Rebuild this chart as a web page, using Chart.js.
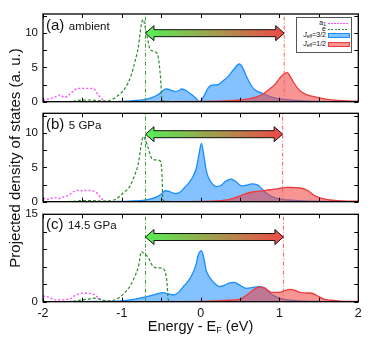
<!DOCTYPE html>
<html>
<head>
<meta charset="utf-8">
<script src="https://cdn.jsdelivr.net/npm/chart.js@4.4.1/dist/chart.umd.min.js"></script>
<style>
  html, body { margin: 0; padding: 0; background: #fff; }
  #wrap { position: relative; width: 373px; height: 341px; overflow: hidden;
          font-family: "Liberation Sans", Arial, sans-serif; color: #111; }
  canvas { position: absolute; left: 0; }
  .plabel { position: absolute; left: 46px; white-space: nowrap; line-height: 15px; z-index: 2; }
  .plabel .tag { font-size: 15px; }
  .plabel .cond { font-size: 11.5px; }
  #ytitle { position: absolute; left: 13.5px; top: 157.5px; font-size: 15px; white-space: nowrap;
            transform: translate(-50%, -50%) rotate(-90deg); z-index: 2; }
  #xtitle { position: absolute; left: 200.5px; top: 319px; font-size: 14.5px; line-height: 14.5px;
            white-space: nowrap; transform: translateX(-50%); z-index: 2; }
  #xtitle sub { font-size: 9px; vertical-align: -2px; }
  #legend { position: absolute; left: 296px; top: 17px; width: 54px; height: 34px;
            border: 1px solid #555; background: #fff; z-index: 2; font-size: 7px; }
  #legend .row { position: absolute; left: 0; width: 54px; height: 8px; }
  #legend .txt { position: absolute; right: 25px; top: 0; line-height: 8px; white-space: nowrap; }
  #legend .txt sub { font-size: 5px; vertical-align: -1px; }
  #legend .sym { position: absolute; left: 31px; width: 20px; }
</style>
</head>
<body>
<div id="wrap">
  <canvas id="cA" width="373" height="115" style="top:0px"></canvas>
  <canvas id="cB" width="373" height="115" style="top:100px"></canvas>
  <canvas id="cC" width="373" height="141" style="top:200px"></canvas>

  <div class="plabel" style="top:17px"><span class="tag">(a)</span> <span class="cond">ambient</span></div>
  <div class="plabel" style="top:116px"><span class="tag">(b)</span> <span class="cond">5 GPa</span></div>
  <div class="plabel" style="top:216px"><span class="tag">(c)</span> <span class="cond">14.5 GPa</span></div>

  <div id="ytitle">Projected density of states (a. u.)</div>
  <div id="xtitle">Energy - E<sub>F</sub> (eV)</div>

  <div id="legend">
    <div class="row" style="top:1px"><span class="txt">a<sub>1</sub></span>
      <div class="sym" style="top:3.5px;height:1.5px;background:repeating-linear-gradient(90deg,#ff4dff 0 2px,transparent 2px 3px)"></div></div>
    <div class="row" style="top:7px"><span class="txt">e</span>
      <div class="sym" style="top:4px;height:1.2px;background:repeating-linear-gradient(90deg,#2e8b2e 0 2px,transparent 2px 3.5px)"></div></div>
    <div class="row" style="top:13px"><span class="txt"><i>J</i><sub>eff</sub>=3/2</span>
      <div class="sym" style="top:2px;height:3px;background:rgba(30,144,255,0.55);border:1px solid #1a8cff"></div></div>
    <div class="row" style="top:22px"><span class="txt"><i>J</i><sub>eff</sub>=1/2</span>
      <div class="sym" style="top:2px;height:3px;background:rgba(240,60,60,0.55);border:1px solid #ee3b3b"></div></div>
  </div>
</div>

<script>
// ---- data (energy in eV, PDOS in a. u.) ----
// (a) ambient
var aA1E = [-2, -1.92, -1.84, -1.78, -1.73, -1.67, -1.6, -1.56, -1.5, -1.44, -1.37, -1.3, -1.26, -1.22, -1.15, -1.0];
var aA1Y = [0.25, 0.4, 0.7, 1.0, 0.6, 1.0, 1.7, 1.95, 1.95, 1.95, 1.95, 1.0, 0.5, 0.1, 0.0, 0.0];
var aEgE = [-2, -1.62, -1.55, -1.45, -1.35, -1.2, -1.11, -1.07, -0.96, -0.88, -0.84, -0.79, -0.75, -0.73, -0.70, -0.67, -0.64, -0.58, -0.54, -0.51, -0.49, -0.45, -0.2];
var aEgY = [0, 0.05, 0.2, 0.25, 0.2, 0.1, 0.4, 0.7, 1.95, 3.9, 5.6, 8.0, 11.5, 12.0, 10.7, 9.0, 7.6, 7.3, 6.6, 3.7, 0.2, 0.05, 0];
var aJ32E = [-2, -1.2, -1.0, -0.85, -0.72, -0.62, -0.56, -0.52, -0.47, -0.43, -0.38, -0.33, -0.28, -0.24, -0.18, -0.12, -0.06, -0.02, 0.01, 0.05, 0.1, 0.16, 0.22, 0.28, 0.35, 0.42, 0.49, 0.54, 0.58, 0.64, 0.69, 0.79, 0.92, 1.09, 1.3, 1.6, 2];
var aJ32Y = [0, 0, 0.05, 0.15, 0.3, 0.6, 0.9, 1.2, 1.7, 1.85, 1.7, 1.5, 1.6, 1.85, 1.6, 1.1, 0.5, 0.05, 0.2, 1.0, 2.1, 2.45, 2.5, 3.0, 3.7, 4.7, 5.5, 4.8, 3.7, 2.4, 1.7, 1.2, 0.6, 0.3, 0.1, 0.02, 0];
var aJ12E = [-2, -0.5, 0, 0.3, 0.5, 0.62, 0.72, 0.8, 0.88, 0.94, 1.0, 1.05, 1.1, 1.14, 1.18, 1.26, 1.35, 1.45, 1.6, 1.8, 2];
var aJ12Y = [0, 0.02, 0.05, 0.12, 0.25, 0.45, 0.75, 1.2, 1.9, 2.5, 3.4, 4.0, 4.25, 3.6, 2.8, 1.6, 1.0, 0.7, 0.35, 0.15, 0.08];

// (b) 5 GPa
var bA1E = [-2, -1.93, -1.86, -1.8, -1.74, -1.68, -1.62, -1.56, -1.5, -1.44, -1.38, -1.32, -1.27, -1.22, -1.15, -1.0];
var bA1Y = [0.5, 0.35, 0.6, 0.45, 0.7, 0.9, 1.4, 1.65, 1.6, 1.65, 1.6, 1.3, 0.6, 0.1, 0, 0];
var bEgE = [-2, -1.62, -1.5, -1.38, -1.25, -1.12, -1.07, -0.98, -0.9, -0.84, -0.79, -0.75, -0.73, -0.70, -0.67, -0.62, -0.57, -0.52, -0.49, -0.48, -0.44, -0.2];
var bEgY = [0, 0.05, 0.15, 0.15, 0.1, 0.2, 0.4, 1.3, 2.2, 3.8, 5.6, 8.6, 9.5, 9.0, 8.0, 6.3, 6.1, 6.0, 4.0, 0.3, 0.05, 0];
var bJ32E = [-2, -1.2, -1.0, -0.85, -0.73, -0.62, -0.55, -0.5, -0.45, -0.4, -0.35, -0.31, -0.25, -0.2, -0.16, -0.1, -0.05, -0.02, 0.01, 0.04, 0.07, 0.1, 0.14, 0.2, 0.26, 0.32, 0.39, 0.45, 0.52, 0.58, 0.65, 0.71, 0.75, 0.8, 0.84, 0.9, 0.96, 1.1, 1.3, 1.6, 2];
var bJ32Y = [0, 0, 0.05, 0.1, 0.2, 0.45, 0.75, 1.1, 1.6, 1.5, 1.25, 1.2, 1.5, 2.1, 2.6, 3.6, 5.1, 7.0, 8.5, 6.8, 4.6, 3.5, 2.7, 2.2, 2.4, 3.0, 3.3, 2.9, 2.3, 2.4, 2.6, 2.5, 2.2, 1.6, 1.2, 0.8, 0.5, 0.25, 0.1, 0.03, 0];
var bJ12E = [-2, -0.5, 0, 0.2, 0.37, 0.48, 0.58, 0.67, 0.75, 0.84, 0.92, 1.0, 1.09, 1.18, 1.26, 1.32, 1.37, 1.42, 1.47, 1.55, 1.64, 1.8, 2];
var bJ12Y = [0, 0.02, 0.05, 0.12, 0.35, 0.75, 1.2, 1.45, 1.55, 1.7, 1.8, 1.95, 2.1, 2.05, 2.0, 1.85, 1.55, 1.1, 0.75, 0.45, 0.25, 0.12, 0.08];

// (c) 14.5 GPa
var cA1E = [-2, -1.93, -1.87, -1.8, -1.72, -1.65, -1.6, -1.55, -1.5, -1.45, -1.4, -1.35, -1.3, -1.25, -1.2, -1.1];
var cA1Y = [1.0, 0.8, 0.4, 0.3, 0.35, 0.5, 1.0, 1.3, 1.45, 1.45, 1.4, 1.2, 0.7, 0.2, 0.05, 0];
var cEgE = [-2, -1.65, -1.5, -1.4, -1.33, -1.25, -1.15, -1.07, -0.98, -0.9, -0.84, -0.79, -0.75, -0.71, -0.67, -0.6, -0.54, -0.48, -0.43, -0.41, -0.37, -0.2];
var cEgY = [0, 0.05, 0.3, 0.5, 0.6, 0.3, 0.15, 0.4, 1.3, 2.6, 4.2, 6.0, 8.6, 8.2, 7.7, 6.0, 5.8, 5.7, 3.7, 0.3, 0.05, 0];
var cJ32E = [-2, -1.2, -1.0, -0.85, -0.73, -0.62, -0.55, -0.48, -0.42, -0.35, -0.28, -0.22, -0.16, -0.1, -0.06, -0.03, 0.01, 0.04, 0.07, 0.1, 0.14, 0.19, 0.24, 0.3, 0.36, 0.43, 0.5, 0.58, 0.65, 0.75, 0.82, 0.88, 0.94, 1.0, 1.1, 1.3, 1.6, 2];
var cJ32Y = [0, 0.05, 0.15, 0.4, 0.75, 1.1, 1.35, 1.55, 1.4, 1.15, 1.6, 2.6, 3.5, 4.9, 6.3, 8.0, 8.75, 7.5, 5.4, 4.5, 3.7, 3.0, 2.6, 2.8, 3.2, 3.3, 2.8, 2.3, 2.4, 2.6, 2.3, 1.45, 0.95, 0.6, 0.3, 0.1, 0.03, 0];
var cJ12E = [-2, -0.5, 0, 0.2, 0.35, 0.5, 0.58, 0.65, 0.7, 0.75, 0.8, 0.85, 0.9, 1.0, 1.07, 1.13, 1.2, 1.26, 1.33, 1.41, 1.47, 1.56, 1.65, 1.77, 2];
var cJ12Y = [0, 0.02, 0.05, 0.12, 0.25, 0.45, 1.1, 1.85, 2.3, 2.5, 2.4, 2.0, 1.6, 1.6, 1.9, 2.1, 1.95, 1.6, 1.5, 1.45, 1.1, 0.45, 0.25, 0.1, 0.05];

// axes / markers per panel
var X_MINOR = [-2, -1.5, -1, -0.5, 0, 0.5, 1, 1.5, 2];
var X_LABELS = [-2, -1, 0, 1, 2];
var PANEL_YMAX = [12.8, 12.9, 15];
var PANEL_YLABELS = [[0, 5, 10], [0, 5, 10], [0, 15]];
var PANEL_YMINOR = [[0, 2.5, 5, 7.5, 10, 12.5], [0, 2.5, 5, 7.5, 10, 12.5], [0, 3, 6, 9, 12, 15]];
var EG_LINE = [-0.70, -0.70, -0.70];
var JEFF_LINE = [1.06, 1.04, 1.05];
var ARROW_Y = [10, 9.85, 11.1];

var BLUE = "#1a8cff", BLUE_FILL = "rgba(30,144,255,0.55)";
var RED = "#ee3b3b", RED_FILL = "rgba(240,60,60,0.55)";
var GREEN = "#2e8b2e", MAGENTA = "#ff4dff";

Chart.defaults.font.family = '"Liberation Sans", Arial, sans-serif';
Chart.defaults.color = "#111";

function pts(xs, ys) {
  return xs.map(function (x, i) { return { x: x, y: ys[i] }; });
}

// box, inward ticks and the gradient double arrow
var framePlugin = {
  id: "frame",
  afterDatasetsDraw: function (chart, args, o) {
    var ctx = chart.ctx, x = chart.scales.x, y = chart.scales.y;
    var x1 = x.getPixelForValue(o.arrowFrom), x2 = x.getPixelForValue(o.arrowTo);
    var yc = y.getPixelForValue(o.arrowY);
    var sh = 3.5, hh = 7.5, hl = 8.5;
    var g = ctx.createLinearGradient(x1, 0, x2, 0);
    g.addColorStop(0, "#55f055");
    g.addColorStop(1, "#f04848");
    ctx.save();
    ctx.beginPath();
    ctx.moveTo(x1, yc);
    ctx.lineTo(x1 + hl, yc - hh);
    ctx.lineTo(x1 + hl, yc - sh);
    ctx.lineTo(x2 - hl, yc - sh);
    ctx.lineTo(x2 - hl, yc - hh);
    ctx.lineTo(x2, yc);
    ctx.lineTo(x2 - hl, yc + hh);
    ctx.lineTo(x2 - hl, yc + sh);
    ctx.lineTo(x1 + hl, yc + sh);
    ctx.lineTo(x1 + hl, yc + hh);
    ctx.closePath();
    ctx.fillStyle = g;
    ctx.fill();
    ctx.strokeStyle = "#111";
    ctx.lineWidth = 1;
    ctx.stroke();
    ctx.restore();
  },
  afterDraw: function (chart, args, o) {
    var ctx = chart.ctx, a = chart.chartArea, x = chart.scales.x, y = chart.scales.y;
    ctx.save();
    ctx.strokeStyle = "#000";
    ctx.lineWidth = 1;
    ctx.beginPath();
    X_MINOR.forEach(function (v) {
      var px = Math.round(x.getPixelForValue(v)) + 0.5;
      ctx.moveTo(px, a.top); ctx.lineTo(px, a.top + 4);
      ctx.moveTo(px, a.bottom); ctx.lineTo(px, a.bottom - 4);
    });
    o.yMinor.forEach(function (v) {
      var py = Math.round(y.getPixelForValue(v)) + 0.5;
      ctx.moveTo(a.left, py); ctx.lineTo(a.left + 4, py);
      ctx.moveTo(a.right, py); ctx.lineTo(a.right - 4, py);
    });
    ctx.stroke();
    ctx.lineWidth = 1.3;
    ctx.strokeRect(a.left, a.top, a.right - a.left, a.bottom - a.top);
    ctx.restore();
  }
};

function makePanel(id, k, series, showX, pad) {
  var ymax = PANEL_YMAX[k];
  var datasets = [
    { data: pts([EG_LINE[k], EG_LINE[k]], [0, ymax]), borderColor: "#3f9a3f", borderWidth: 1,
      borderDash: [4, 2, 1, 2], pointRadius: 0, fill: false },
    { data: pts([JEFF_LINE[k], JEFF_LINE[k]], [0, ymax]), borderColor: "#ff5a5a", borderWidth: 1,
      borderDash: [4, 2, 1, 2], pointRadius: 0, fill: false },
    { label: "e", data: pts(series[2], series[3]), borderColor: GREEN, borderWidth: 1.2,
      borderDash: [3, 2], pointRadius: 0, fill: false, cubicInterpolationMode: "monotone" },
    { label: "a1", data: pts(series[0], series[1]), borderColor: MAGENTA, borderWidth: 1.4,
      borderDash: [2, 2], pointRadius: 0, fill: false, cubicInterpolationMode: "monotone" },
    { label: "Jeff=1/2", data: pts(series[6], series[7]), borderColor: RED, backgroundColor: RED_FILL,
      borderWidth: 1.3, pointRadius: 0, fill: "origin", cubicInterpolationMode: "monotone" },
    { label: "Jeff=3/2", data: pts(series[4], series[5]), borderColor: BLUE, backgroundColor: BLUE_FILL,
      borderWidth: 1.3, pointRadius: 0, fill: "origin", cubicInterpolationMode: "monotone" }
  ];

  return new Chart(document.getElementById(id), {
    type: "line",
    data: { datasets: datasets },
    plugins: [framePlugin],
    options: {
      responsive: false,
      animation: false,
      layout: { padding: pad },
      plugins: {
        legend: { display: false },
        tooltip: { enabled: false },
        frame: { yMinor: PANEL_YMINOR[k], arrowFrom: EG_LINE[k], arrowTo: JEFF_LINE[k], arrowY: ARROW_Y[k] }
      },
      scales: {
        x: {
          type: "linear", min: -2, max: 2, display: showX,
          grid: { display: false, drawTicks: false }, border: { display: false },
          ticks: { padding: 4, font: { size: 12.5 }, autoSkip: false, maxRotation: 0 },
          afterBuildTicks: function (s) { s.ticks = X_LABELS.map(function (v) { return { value: v }; }); },
          afterFit: function (s) { if (showX) s.height = 39.3; }
        },
        y: {
          type: "linear", min: 0, max: ymax,
          grid: { display: false, drawTicks: false }, border: { display: false },
          ticks: { padding: 5, font: { size: 11.5 } },
          afterBuildTicks: function (s) { s.ticks = PANEL_YLABELS[k].map(function (v) { return { value: v }; }); },
          afterFit: function (s) { s.width = 43; }
        }
      }
    }
  });
}

makePanel("cA", 0, [aA1E, aA1Y, aEgE, aEgY, aJ32E, aJ32Y, aJ12E, aJ12Y], false,
  { top: 14, bottom: 13.3, left: 0, right: 14.7 });
makePanel("cB", 1, [bA1E, bA1Y, bEgE, bEgY, bJ32E, bJ32Y, bJ12E, bJ12Y], false,
  { top: 13.3, bottom: 13.3, left: 0, right: 14.7 });
makePanel("cC", 2, [cA1E, cA1Y, cEgE, cEgY, cJ32E, cJ32Y, cJ12E, cJ12Y], true,
  { top: 14.3, bottom: 0, left: 0, right: 14.7 });
</script>
</body>
</html>
